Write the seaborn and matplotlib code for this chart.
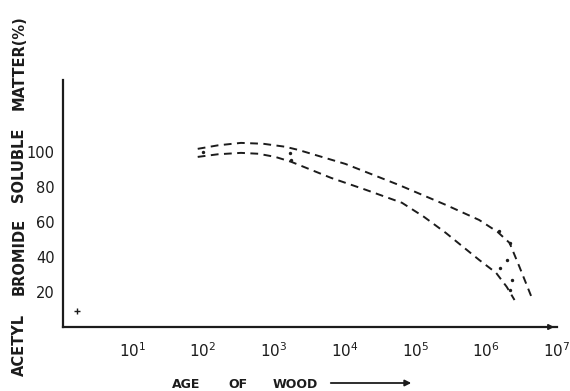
import matplotlib
matplotlib.use("Agg")
import matplotlib.pyplot as plt
import seaborn as sns
import pandas as pd

# ---- data ----
upper_age = [84, 162, 343, 708, 1445, 2213, 10233, 58210, 269153, 794328, 1445440, 2138000, 2951000, 4365000]
upper_val = [101.7, 103.7, 105.1, 104.6, 102.9, 101.1, 93.1, 81.1, 69.7, 61.1, 54.3, 48.0, 34.3, 17.1]
lower_age = [84, 162, 343, 603, 1047, 1758, 6457, 19953, 64565, 131826, 269153, 794328, 1380384, 1949845, 2511886]
lower_val = [97.1, 98.6, 99.4, 98.9, 97.1, 94.3, 85.1, 78.3, 70.9, 62.9, 53.7, 38.3, 30.9, 22.9, 15.4]
dot_age = [1530000, 2138000, 1995000, 1585000, 2344000, 2188000, 1698, 1758, 100]
dot_val = [54.9, 48.0, 38.3, 33.7, 26.9, 21.1, 99.4, 95.4, 100.0]
cross_age = [1.66]
cross_val = [9.0]
x_ticks = [10, 100, 1000, 10000, 100000, 1000000, 10000000]
x_tick_labels = ["1", "2", "3", "4", "5", "6", "7"]
y_ticks = [20, 40, 60, 80, 100]
y_label_words = ["ACETYL", "BROMIDE", "SOLUBLE", "MATTER(%)"]
x_label_words = ["AGE", "OF", "WOOD"]

sns.set_theme(style="white")
plt.rcParams["font.family"] = ["DejaVu Sans"]
ink = "#1c1c1c"

fig = plt.figure(figsize=(5.7, 3.91), dpi=100)
ax = fig.add_axes([63/570, 1-327/391, (557-63)/570, (327-80)/391])

df_u = pd.DataFrame({"age": upper_age, "val": upper_val})
df_l = pd.DataFrame({"age": lower_age, "val": lower_val})
sns.lineplot(data=df_u, x="age", y="val", ax=ax, color=ink, lw=1.4,
             linestyle=(0, (4, 2.8)), sort=False)
sns.lineplot(data=df_l, x="age", y="val", ax=ax, color=ink, lw=1.4,
             linestyle=(0, (4, 2.8)), sort=False)
sns.scatterplot(x=dot_age, y=dot_val, ax=ax, color=ink, s=6, linewidth=0)
sns.scatterplot(x=cross_age, y=cross_val, ax=ax, color=ink, marker="+", s=18, linewidth=1)

ax.set_xscale("log")
ax.set_xlim(1.05, 1e7)
ax.set_ylim(0, 141)
for s in ["top", "right"]:
    ax.spines[s].set_visible(False)
for s in ["left", "bottom"]:
    ax.spines[s].set_color(ink)
    ax.spines[s].set_linewidth(1.6)

ax.set_xticks(x_ticks)
ax.set_xticklabels([r"$\mathregular{10^{%s}}$" % t for t in x_tick_labels],
                   fontsize=11, color=ink)
ax.minorticks_off()
ax.set_yticks(y_ticks)
ax.set_yticklabels([str(v) for v in y_ticks], fontsize=10.5, color=ink)
ax.tick_params(axis="both", direction="inout", length=4, width=1.6, color=ink)
ax.tick_params(axis="x", pad=8)
ax.tick_params(axis="y", pad=4)
ax.set_xlabel("")
ax.set_ylabel("")

# arrow head at end of x axis
ax.annotate("", xy=(1.0, 0), xycoords="axes fraction", xytext=(0.985, 0),
            arrowprops=dict(arrowstyle="-|>", color=ink, lw=1.2, mutation_scale=8))

# y label, word by word (centres in pixels from top)
for word, yc in zip(y_label_words, [345, 256, 165, 63]):
    fig.text(19/570, 1-yc/391, word, rotation=90, ha="center", va="center",
             fontsize=10.5, color=ink, fontweight="bold")
# x label
for word, xl in zip(x_label_words, [172, 228, 273]):
    fig.text(xl/570, 1-384/391, word, ha="left", va="center",
             fontsize=9, color=ink, fontweight="bold")
fig.add_artist(matplotlib.patches.FancyArrowPatch(
    (328/570, 1-383/391), (414/570, 1-383/391), transform=fig.transFigure,
    arrowstyle="-|>", mutation_scale=9, color=ink, lw=1.3))

fig.savefig("out.png", dpi=100)
